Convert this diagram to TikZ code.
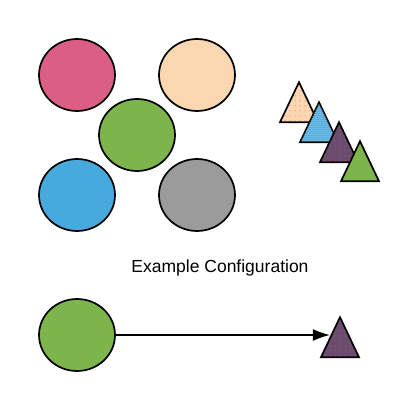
\documentclass[tikz,border=0pt]{standalone}
\usepackage{fontspec}
\setsansfont{Liberation Sans}
\usetikzlibrary{shapes.geometric}
\usetikzlibrary{arrows.meta}
\usetikzlibrary{patterns.meta}
\definecolor{rosepink}{HTML}{DB5F84}
\definecolor{peach}{HTML}{FAD7B0}
\definecolor{leafgreen}{HTML}{7DB54C}
\definecolor{skyblue}{HTML}{48A9DD}
\definecolor{stonegray}{HTML}{9B9B9B}
\definecolor{plum}{HTML}{6A4C6E}
\definecolor{dotpink}{HTML}{E8507E}
\tikzset{
  every picture/.style={
    line width=1.7pt
  },
  blob/.style={
    ellipse, draw, minimum width=76pt, minimum height=72pt,
    inner sep=0pt
  },
  tri/.style={
    isosceles triangle, isosceles triangle stretches,
    shape border rotate=90, draw, minimum width=38pt,
    minimum height=40pt, inner sep=0pt, anchor=apex
  },
  speckle/.style={
    postaction={pattern color=#1,
      pattern={Dots[distance=5pt, radius=0.5pt]}}
  },
  fine speckle/.style={
    postaction={pattern color=#1,
      pattern={Dots[distance=2pt, radius=0.5pt]}}
  },
  link/.style={
    -{Latex[width=12pt, length=17pt]}, line width=1.3pt
  }
}

\begin{document}
\begin{tikzpicture}[x=1pt,y=-1pt]
  \useasboundingbox (0,0) rectangle (420,411);
  % five circles
  \node[blob, fill=rosepink] (pink) at (77,75) {};
  \node[blob, fill=peach] (peach) at (197,75) {};
  \node[blob, fill=leafgreen] (mid) at (137,135) {};
  \node[blob, fill=skyblue] (blue) at (77,195) {};
  \node[blob, fill=stonegray] (gray) at (197,195) {};
  % stacked triangles, placed by apex
  \node[tri, fill=peach, speckle=dotpink] (t1) at (299,80) {};
  \node[tri, fill=skyblue, fine speckle=white] (t2) at (319,100) {};
  \node[tri, fill=plum, speckle=dotpink] (t3) at (339,120) {};
  \node[tri, fill=leafgreen] (t4) at (360,139) {};
  \node[font=\sffamily\fontsize{17.5}{20}\selectfont, anchor=base]
    (title) at (220,273) {Example Configuration};
  % bottom row
  \node[blob, fill=leafgreen] (src) at (77,335) {};
  \node[tri, fill=plum, speckle=dotpink] (dst) at (340,315) {};
  \draw[link] (src) -- (src -| dst.left side);
\end{tikzpicture}
\end{document}
